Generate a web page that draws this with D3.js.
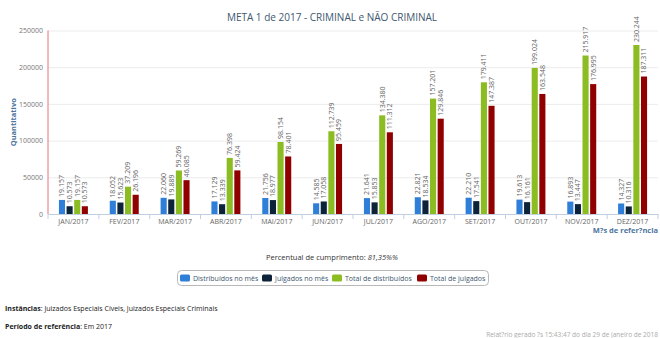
<!DOCTYPE html>
<html>
<head>
<meta charset="utf-8">
<script src="https://cdn.jsdelivr.net/npm/d3@7"></script>
<style>
  html, body { margin: 0; padding: 0; background: #fff; }
  svg { display: block; font-family: "Open Sans", "DejaVu Sans", sans-serif; }
</style>
</head>
<body>
<svg id="chart" width="660" height="338"></svg>
<script>
// Monthly figures (Meta 1, 2017)
const categories = ["JAN/2017","FEV/2017","MAR/2017","ABR/2017","MAI/2017","JUN/2017",
                    "JUL/2017","AGO/2017","SET/2017","OUT/2017","NOV/2017","DEZ/2017"];
const distribuidosMes   = [19157, 18052, 22060, 17129, 21756, 14585, 21641, 22821, 22210, 19613, 16893, 14327];
const julgadosMes       = [10573, 15623, 19889, 13339, 18977, 17058, 15853, 18534, 17541, 16161, 13447, 10316];
const totalDistribuidos = [19157, 37209, 59269, 76398, 98154, 112739, 134380, 157201, 179411, 199024, 215917, 230244];
const totalJulgados     = [10573, 26196, 46085, 59424, 78401, 95459, 111312, 129846, 147387, 163548, 176995, 187311];
const seriesNames  = ["Distribuídos no mês", "Julgados no mês", "Total de distribuídos", "Total de julgados"];
const seriesColors = ["#2f7ed8", "#0d233a", "#8bbc21", "#910000"];
const yTicks = [0, 50000, 100000, 150000, 200000, 250000];

const series = [distribuidosMes, julgadosMes, totalDistribuidos, totalJulgados];

const svg = d3.select("#chart");
const plotLeft = 48, plotRight = 658, plotTop = 30.5, plotBottom = 214;

const br = d3.formatLocale({decimal: ",", thousands: ".", grouping: [3], currency: ["", ""]});
const fmt = br.format(",d");

const x = d3.scaleBand().domain(categories).range([plotLeft, plotRight]).paddingInner(0).paddingOuter(0);
const bw = x.bandwidth();
const xs = d3.scaleBand().domain(d3.range(series.length))
  .range([bw * 0.2, bw * 0.8]).paddingInner(0.2).paddingOuter(0.1);
const y = d3.scaleLinear().domain([0, 250000]).range([plotBottom, plotTop]);

// title
svg.append("text").attr("x", 332).attr("y", 21).attr("text-anchor", "middle")
  .attr("font-size", 10).attr("fill", "#3e576f").text("META 1 de 2017 - CRIMINAL e NÃO CRIMINAL");

// gridlines + y labels
const yAxis = d3.axisLeft(y).tickValues(yTicks).tickSize(-(plotRight - plotLeft)).tickFormat(d3.format("d")).tickPadding(5);
const gy = svg.append("g").attr("transform", `translate(${plotLeft},0)`).call(yAxis);
gy.select(".domain").remove();
gy.selectAll(".tick line").attr("stroke", "#ececec");
gy.selectAll(".tick text").attr("font-size", 7).attr("fill", "#777").attr("font-family", "Open Sans, sans-serif");

// y axis line
svg.append("line").attr("x1", plotLeft).attr("x2", plotLeft).attr("y1", plotTop).attr("y2", plotBottom)
  .attr("stroke", "#e8707a").attr("stroke-width", 1);

// y title
svg.append("text").attr("transform", `translate(16,${(plotTop + plotBottom) / 2}) rotate(-90)`)
  .attr("text-anchor", "middle").attr("font-size", 7.5).attr("font-weight", "bold")
  .attr("fill", "#4d759e").text("Quantitativo");

// x axis
const xAxis = d3.axisBottom(x).tickSize(0).tickPadding(5);
const gx = svg.append("g").attr("transform", `translate(0,${plotBottom})`).call(xAxis);
gx.select(".domain").attr("stroke", "#c0d0e0");
gx.selectAll(".tick text").attr("font-size", 7).attr("fill", "#666").attr("font-family", "Open Sans, sans-serif");
// tick marks between categories
svg.append("g").selectAll("line").data(d3.range(categories.length + 1)).join("line")
  .attr("x1", i => plotLeft + i * bw).attr("x2", i => plotLeft + i * bw)
  .attr("y1", plotBottom).attr("y2", plotBottom + 5).attr("stroke", "#c0d0e0");

svg.append("text").attr("x", plotRight).attr("y", 233).attr("text-anchor", "end")
  .attr("font-size", 7.5).attr("font-weight", "bold").attr("fill", "#4d759e").text("M?s de refer?ncia");

// bars and rotated value labels
const groups = svg.append("g").selectAll("g").data(categories).join("g")
  .attr("transform", d => `translate(${x(d)},0)`);

series.forEach((vals, si) => {
  groups.append("rect")
    .attr("x", xs(si)).attr("width", xs.bandwidth())
    .attr("y", (d, i) => y(vals[i])).attr("height", (d, i) => plotBottom - y(vals[i]))
    .attr("fill", seriesColors[si]);
  groups.append("text")
    .attr("transform", (d, i) => `translate(${xs(si) + xs.bandwidth() / 2 + 2.4},${y(vals[i]) - 3}) rotate(-90)`)
    .attr("font-size", 7).attr("fill", "#666")
    .text((d, i) => fmt(vals[i]));
});

// percentage line
const pct = svg.append("text").attr("x", 332).attr("y", 260).attr("text-anchor", "middle")
  .attr("font-size", 7.5).attr("fill", "#333");
pct.append("tspan").text("Percentual de cumprimento: ");
pct.append("tspan").attr("font-style", "italic").text("81,35%%");

// legend
const legend = svg.append("g");
legend.append("rect").attr("x", 177.5).attr("y", 270.5).attr("width", 311).attr("height", 15)
  .attr("rx", 4).attr("fill", "#fff").attr("stroke", "#b8b8b8");
const legendX = [180, 262, 332, 417];
seriesNames.forEach((name, i) => {
  legend.append("rect").attr("x", legendX[i]).attr("y", 274.5).attr("width", 10).attr("height", 7)
    .attr("rx", 1.5).attr("fill", seriesColors[i]);
  legend.append("text").attr("x", legendX[i] + 13).attr("y", 281).attr("font-size", 7)
    .attr("fill", "#3e576f").text(name);
});

// footer info
const inst = svg.append("text").attr("x", 5).attr("y", 311).attr("font-size", 7).attr("fill", "#222");
inst.append("tspan").attr("font-weight", "bold").text("Instâncias");
inst.append("tspan").text(": Juizados Especiais Cíveis, Juizados Especiais Criminais");
const per = svg.append("text").attr("x", 5).attr("y", 329).attr("font-size", 7).attr("fill", "#222");
per.append("tspan").attr("font-weight", "bold").text("Período de referência");
per.append("tspan").text(": Em 2017");
svg.append("text").attr("x", 658).attr("y", 337).attr("text-anchor", "end")
  .attr("font-size", 6.5).attr("fill", "#aaa").text("Relat?rio gerado ?s 15:43:47 do dia 29 de janeiro de 2018");
</script>
</body>
</html>
